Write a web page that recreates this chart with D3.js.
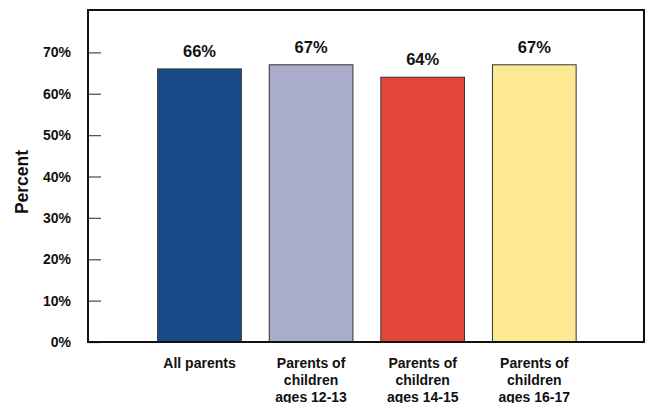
<!DOCTYPE html>
<html><head><meta charset="utf-8">
<script src="https://cdn.jsdelivr.net/npm/d3@7"></script>
<style>body{margin:0;background:#fff}svg{display:block}text{font-family:"Liberation Sans",Arial,Helvetica,sans-serif;font-weight:bold;fill:#111}</style>
</head><body><svg id="c" width="645" height="403"></svg>
<script>
const categories = [["All parents"],["Parents of","children","ages 12-13"],["Parents of","children","ages 14-15"],["Parents of","children","ages 16-17"]];
const values = [66, 67, 64, 67];
const colors = ["#174a87", "#aaadca", "#e4473a", "#fde992"];
const yTicks = [0, 10, 20, 30, 40, 50, 60, 70];

const svg = d3.select("#c");
const frame = {l: 88, t: 11, r: 644, b: 342};
const y = d3.scaleLinear().domain([0, 80]).range([frame.b, frame.t]);
const x = d3.scaleBand().domain(d3.range(values.length)).range([143.7, 590.1]).paddingInner(0.25).paddingOuter(0.125);

// bars
svg.selectAll("rect.bar").data(values).join("rect").attr("class","bar")
  .attr("x",(d,i)=>x(i)).attr("width",x.bandwidth())
  .attr("y",d=>y(d)).attr("height",d=>y(0)-y(d))
  .attr("fill",(d,i)=>colors[i]).attr("stroke","#333").attr("stroke-width",1);

// value labels
svg.selectAll("text.val").data(values).join("text").attr("class","val")
  .attr("x",(d,i)=>x(i)+x.bandwidth()/2).attr("y",d=>y(d)-12)
  .attr("text-anchor","middle").style("font-size","16.5px").text(d=>d+"%");

// y axis ticks (inside)
const yAxis = d3.axisRight(y).tickValues(yTicks).tickSize(13).tickFormat("");
const ga = svg.append("g").attr("transform",`translate(${frame.l},0)`).call(yAxis);
ga.select(".domain").remove();
ga.selectAll("line").attr("stroke","#555").attr("stroke-width",1.3);

svg.selectAll("text.yt").data(yTicks).join("text").attr("class","yt")
  .attr("x",71).attr("y",d=>y(d)+5).attr("text-anchor","end")
  .style("font-size","14px").text(d=>d+"%");

// frame
svg.append("rect").attr("x",frame.l).attr("y",frame.t-1).attr("width",frame.r-frame.l).attr("height",frame.b-frame.t+1)
  .attr("fill","none").attr("stroke","#111").attr("stroke-width",2);

// y title
svg.append("text").attr("transform","translate(28,182) rotate(-90)").attr("text-anchor","middle")
  .style("font-size","17.5px").text("Percent");

// category labels
categories.forEach((lines,i)=>{
  const t = svg.append("text").attr("x",x(i)+x.bandwidth()/2).attr("y",367.5).attr("text-anchor","middle").style("font-size","14px");
  lines.forEach((ln,j)=>t.append("tspan").attr("x",x(i)+x.bandwidth()/2).attr("dy",j===0?0:17).text(ln));
});
</script></body></html>
